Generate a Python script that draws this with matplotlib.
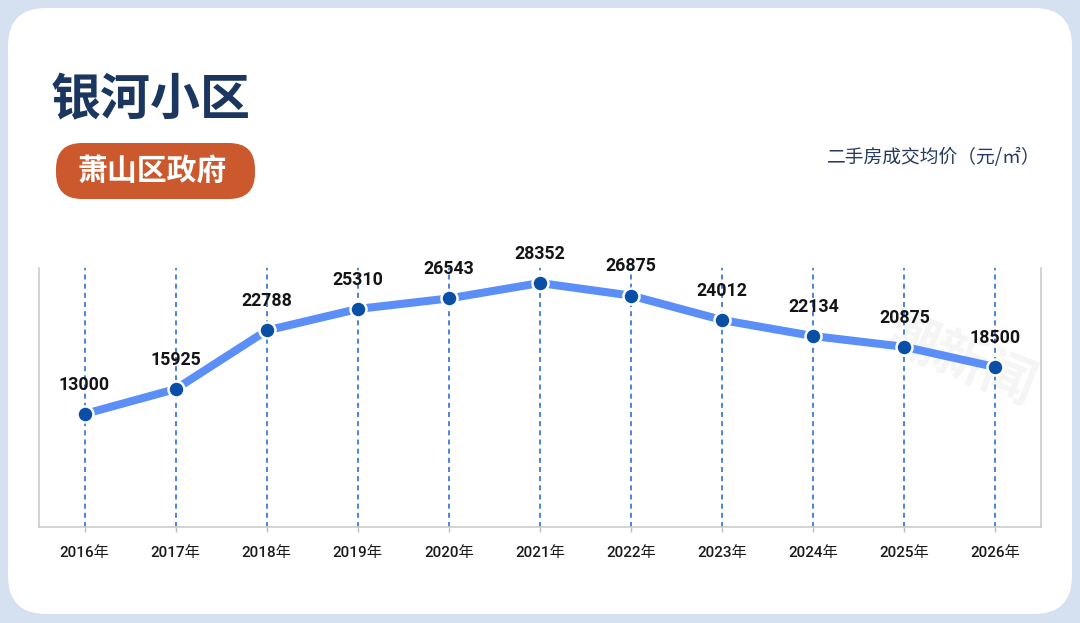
import matplotlib
matplotlib.use("Agg")
import matplotlib.pyplot as plt
from matplotlib.patches import FancyBboxPatch

# data
years = ["2016年", "2017年", "2018年", "2019年", "2020年", "2021年",
         "2022年", "2023年", "2024年", "2025年", "2026年"]
prices = [13000, 15925, 22788, 25310, 26543, 28352, 26875, 24012, 22134, 20875, 18500]

title = "银河小区"
badge = "萧山区政府"
unit_label = "二手房成交均价（元/㎡）"

cjk = ["Noto Sans CJK SC", "DejaVu Sans"]
num_font = ["Roboto", "Noto Sans CJK SC", "DejaVu Sans"]

fig = plt.figure(figsize=(10.8, 6.23), dpi=100)
fig.patch.set_facecolor("#d5e0f0")

# background layer in pixel coordinates
bg = fig.add_axes([0, 0, 1, 1])
bg.set_xlim(0, 1080)
bg.set_ylim(623, 0)
bg.axis("off")
bg.add_patch(FancyBboxPatch((8, 8), 1064, 606, boxstyle="round,pad=0,rounding_size=38",
                            facecolor="white", edgecolor="none"))
bg.add_patch(FancyBboxPatch((56, 143), 199, 56, boxstyle="round,pad=0,rounding_size=26",
                            facecolor="#cc592d", edgecolor="none"))
bg.text(51, 101, title, family=cjk, fontsize=36, fontweight="bold",
        color="#1b365f", ha="left", va="center")
bg.text(152, 171, badge, family=cjk, fontsize=21.5, fontweight="bold",
        color="white", ha="center", va="center")
bg.text(1041, 157, unit_label, family=cjk, fontsize=13.5, fontweight="medium",
        color="#243a60", ha="right", va="center")
# faint watermark
bg.text(960, 360, "潮新闻", family=cjk, fontsize=38, fontweight="bold",
        color="#f5f5f5", rotation=-22, ha="center", va="center")

ax = fig.add_axes([39 / 1080, 96 / 623, 1002 / 1080, 259 / 623])
ax.patch.set_alpha(0)
x = list(range(len(years)))

for xi in x:
    ax.axvline(xi, color="#2f6fce", lw=1.2, ls=(0, (3, 2.5)), zorder=1)

ax.plot(x, prices, color="#5b8ff7", lw=5.8, solid_capstyle="round", zorder=2)
ax.plot(x, prices, ls="none", marker="o", ms=11.5, mfc="#0a4fa6",
        mec="white", mew=1.8, zorder=3)

for xi, v in zip(x, prices):
    ax.annotate(str(v), (xi, v), xytext=(0, 21), textcoords="offset points",
                ha="center", va="center", family=num_font, fontsize=12.8,
                fontweight="bold", color="#151515", zorder=4)

ax.set_xlim(-0.5, 10.5)
ax.set_ylim(-240, 30110)
ax.set_xticks(x)
ax.set_xticklabels(years, family=num_font, fontsize=11, fontweight="medium",
                   color="#1a1a1a")
ax.set_yticks([])
ax.tick_params(axis="x", length=3.5, width=1, color="#bdbdbd", pad=10.5)

for side in ["left", "right", "bottom"]:
    ax.spines[side].set_color("#cccccc")
    ax.spines[side].set_linewidth(1.2)
ax.spines["top"].set_visible(False)

fig.savefig("out.png", dpi=100, facecolor=fig.get_facecolor())
